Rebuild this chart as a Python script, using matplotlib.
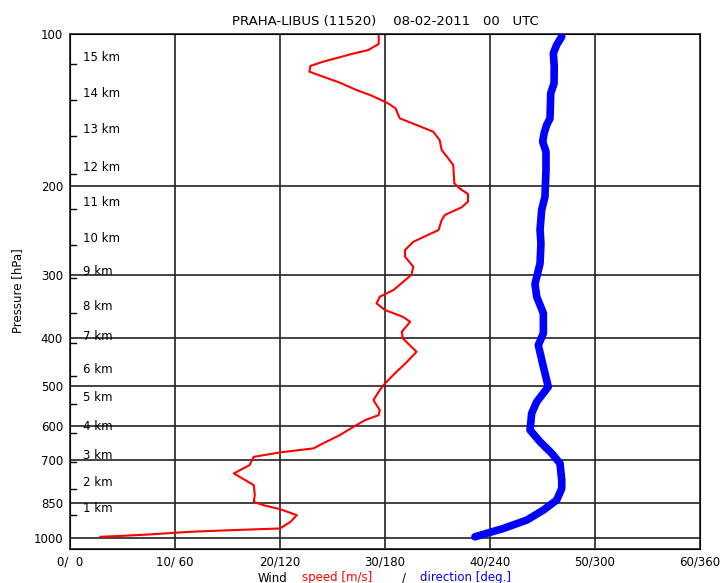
import matplotlib
matplotlib.use("Agg")
import matplotlib.pyplot as plt
from matplotlib.ticker import NullLocator

# wind speed profile (m/s) vs pressure (hPa)
speed_p = [100.5, 104.7, 107.6, 109.6, 113.5, 115.7, 118.8, 121.5, 124.9, 129.2,
           132.2, 136.9, 140.4, 147.0, 151.5, 156.3, 162.3, 169.9, 175.2, 181.9,
           197.8, 202.4, 207.7, 215.1, 220.7, 228.6, 233.9, 244.8, 258.3, 268.3,
           276.6, 289.5, 300.7, 322.1, 332.1, 342.3, 352.9, 363.9, 372.3, 389.7,
           401.6, 427.0, 446.9, 467.8, 493.3, 508.6, 532.4, 557.2, 570.2, 583.4,
           601.5, 624.6, 648.8, 663.7, 676.1, 689.9, 716.6, 744.2, 785.0, 821.7,
           847.2, 860.1, 876.1, 900.4, 928.4, 956.9, 964.0, 971.6, 983.3, 989.5, 994.0]
speed = [29.4, 29.4, 28.4, 26.8, 24.1, 22.9, 22.8, 24.1, 25.7, 27.3,
         28.6, 30.2, 31.0, 31.4, 33.0, 34.6, 35.2, 35.4, 35.9, 36.5,
         36.6, 37.1, 37.9, 37.9, 37.3, 35.7, 35.4, 35.1, 32.7, 31.9,
         31.9, 32.7, 32.5, 30.8, 29.5, 29.2, 30.0, 31.7, 32.4, 31.6,
         31.7, 33.0, 32.1, 31.1, 30.0, 29.5, 28.9, 29.5, 29.4, 28.1,
         27.0, 25.7, 24.1, 23.2, 20.0, 17.5, 17.1, 15.6, 17.5, 17.6,
         17.5, 18.4, 20.0, 21.6, 21.0, 20.0, 15.6, 11.4, 7.6, 5.1, 2.9]

# wind direction profile (deg) vs pressure (hPa)
dir_p = [101.2, 105.1, 109.2, 116.1, 125.3, 131.1, 147.0, 151.5, 157.4, 163.6,
         171.2, 186.2, 210.3, 223.5, 244.8, 260.2, 285.1, 313.3, 332.1, 358.2,
         392.5, 414.2, 457.3, 501.0, 536.6, 565.7, 610.5, 644.1, 679.1, 710.9,
         767.3, 797.0, 840.6, 879.9, 921.0, 956.9, 994.0]
direction = [281.0, 278.1, 276.2, 276.7, 276.6, 274.7, 274.3, 272.4, 270.9, 270.1,
             272.0, 272.0, 271.4, 269.5, 268.6, 269.1, 268.6, 265.7, 266.7, 270.5,
             270.5, 267.6, 270.5, 273.3, 266.7, 263.8, 262.9, 268.6, 275.3, 280.0,
             281.0, 281.0, 278.1, 270.5, 261.0, 247.6, 231.4]

# axis ticks
p_ticks = [100, 200, 300, 400, 500, 600, 700, 850, 1000]
speed_ticks = [0, 10, 20, 30, 40, 50, 60]
dir_ticks = [0, 60, 120, 180, 240, 300, 360]

# height markers (km) and their pressure
km_levels = [15, 14, 13, 12, 11, 10, 9, 8, 7, 6, 5, 4, 3, 2, 1]
km_p = [114.8, 135.4, 159.6, 189.3, 222.8, 262.2, 304.9, 358.2, 410.4, 477.0,
        542.2, 619.0, 705.8, 799.6, 900.4]

fig = plt.figure(figsize=(7.26, 5.83), dpi=100)
ax = fig.add_axes([70 / 726, 1 - 549 / 583, 630 / 726, 515 / 583])

ax.set_yscale('log')
ax.set_ylim(1051, 100)
ax.set_xlim(0, 60)
ax.yaxis.set_minor_locator(NullLocator())
ax.set_yticks(p_ticks)
ax.set_yticklabels([str(p) for p in p_ticks])
ax.set_xticks(speed_ticks)
labels = []
for s, d in zip(speed_ticks, dir_ticks):
    labels.append("%d/%3d" % (s, d) if s > 0 else "0/  0")
ax.set_xticklabels(labels)
ax.tick_params(length=0, labelsize=8.5, pad=5)
for sp in ax.spines.values():
    sp.set_color('#333333')
    sp.set_linewidth(1.3)

# grid
for s in speed_ticks[1:-1]:
    ax.axvline(s, color='#222222', lw=1.2, zorder=1)
for p in p_ticks[1:]:
    ax.axhline(p, color='#222222', lw=1.2, zorder=1)

# km markers
for km, p in zip(km_levels, km_p):
    ax.plot([0, 0.6], [p, p], color='black', lw=1.0, zorder=2)
    ax.annotate("%d km" % km, (0, p), xycoords='data', xytext=(13, 0),
                textcoords='offset pixels', fontsize=8.5, va='bottom', ha='left', zorder=3)

ax.plot(speed, speed_p, color='red', lw=1.5, zorder=4)

ax2 = ax.twiny()
ax2.set_xlim(0, 360)
ax2.set_xticks([])
ax2.plot(direction, dir_p, color='#0000ff', lw=5.5, solid_capstyle='round', zorder=4)

fig.text(18 / 726, 1 - 291 / 583, 'Pressure [hPa]', rotation=90, ha='center', va='center',
         fontsize=8.5)
fig.text(385 / 726, 1 - 22 / 583, "PRAHA-LIBUS (11520)    08-02-2011   00   UTC",
         ha='center', va='center', fontsize=9.5)

# x label in colored parts
yb = 1 - 578 / 583
fig.text(258 / 726, yb, "Wind", ha='left', va='center', fontsize=8.5, color='black')
fig.text(302 / 726, yb, "speed [m/s]", ha='left', va='center', fontsize=8.5, color='red')
fig.text(402 / 726, yb, "/", ha='left', va='center', fontsize=8.5, color='black')
fig.text(420 / 726, yb, "direction [deg.]", ha='left', va='center', fontsize=8.5, color='blue')

fig.savefig('out.png', dpi=100)
